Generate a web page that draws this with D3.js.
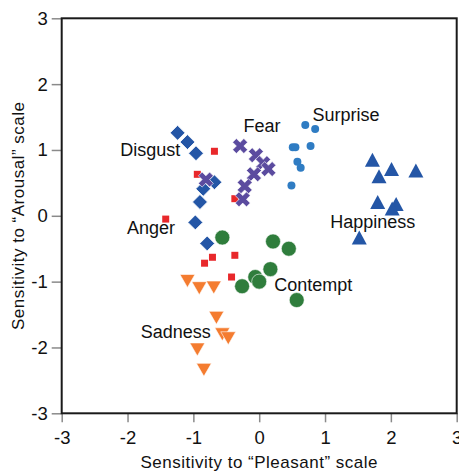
<!DOCTYPE html>
<html>
<head>
<meta charset="utf-8">
<script src="https://cdn.jsdelivr.net/npm/d3@7"></script>
<style>
  body { margin: 0; background: #fff; }
  svg { display: block; font-family: "Liberation Sans", Arial, sans-serif; }
  .tick line { stroke: #8a8a8a; stroke-width: 1.5; }
  .tick text { font-size: 18.5px; fill: #111; }
</style>
</head>
<body>
<div id="container"></div>
<script>
var width = 459, height = 475;
var plot = {left: 61.7, right: 456.7, top: 18.3, bottom: 413.3};

// emotion categories and their [pleasant, arousal] sensitivities
var categories = ['Anger', 'Disgust', 'Fear', 'Surprise', 'Happiness', 'Contempt', 'Sadness'];

var anger = [[-0.68, 0.98], [-0.94, 0.63], [-1.42, -0.05], [-0.37, 0.26],
	[-0.71, -0.63], [-0.83, -0.72], [-0.37, -0.60], [-0.42, -0.93]];
var disgust = [[-1.24, 1.26], [-1.09, 1.12], [-0.96, 0.95], [-0.68, 0.51],
	[-0.85, 0.41], [-0.90, 0.21], [-0.97, -0.10], [-0.79, -0.42]];
var fear = [[-0.29, 1.06], [-0.05, 0.92], [0.06, 0.80], [0.14, 0.71],
	[-0.08, 0.63], [-0.22, 0.45], [-0.25, 0.25], [-0.81, 0.55]];
var surprise = [[0.70, 1.38], [0.85, 1.32], [0.51, 1.04], [0.55, 1.04],
	[0.78, 1.06], [0.58, 0.82], [0.63, 0.73], [0.49, 0.46]];
var happiness = [[1.72, 0.85], [2.01, 0.71], [1.82, 0.60], [2.38, 0.69],
	[1.80, 0.21], [2.08, 0.18], [2.02, 0.11], [1.52, -0.33]];
var contempt = [[-0.56, -0.33], [0.21, -0.39], [0.45, -0.50], [0.17, -0.81],
	[-0.06, -0.93], [0.00, -1.00], [-0.26, -1.07], [0.57, -1.28]];
var sadness = [[-1.09, -0.99], [-0.91, -1.10], [-0.69, -1.09], [-0.65, -1.55],
	[-0.56, -1.80], [-0.47, -1.86], [-0.94, -2.03], [-0.84, -2.34]];

var tickValues = [-3, -2, -1, 0, 1, 2, 3];

// where each category name sits (data units, text start / baseline)
var labelSpots = [[-2.01, -0.28], [-2.11, 0.91], [-0.24, 1.28], [0.81, 1.44],
	[1.08, -0.19], [0.23, -1.14], [-1.80, -1.85]];

var svg = d3.select('div#container')
	.append('svg')
	.attr('width', width)
	.attr('height', height);

var x = d3.scaleLinear().domain([-3, 3]).range([plot.left, plot.right]);
var y = d3.scaleLinear().domain([-3, 3]).range([plot.bottom, plot.top]);

var xAxis = svg.append('g')
	.attr('transform', 'translate(0,' + plot.bottom + ')')
	.call(d3.axisBottom(x).tickValues(tickValues).tickSize(9).tickPadding(9)
		.tickFormat(d => String(d)));
var yAxis = svg.append('g')
	.attr('transform', 'translate(' + plot.left + ',0)')
	.call(d3.axisLeft(y).tickValues(tickValues).tickSize(10).tickPadding(4)
		.tickFormat(d => String(d)));
xAxis.select('.domain').remove();
yAxis.select('.domain').remove();
svg.selectAll('.tick text').attr('font-family', null);

// frame
svg.append('rect')
	.attr('x', plot.left)
	.attr('y', plot.top)
	.attr('width', plot.right - plot.left)
	.attr('height', plot.bottom - plot.top)
	.attr('fill', 'none')
	.attr('stroke', '#1a1a1a')
	.attr('stroke-width', 2);

var triUp = 'M0,-7L7.5,7L-7.5,7Z';
var triDown = 'M-7.5,-6.5L7.5,-6.5L0,6.5Z';

var marks = svg.append('g');

function place(d) { return 'translate(' + x(d[0]) + ',' + y(d[1]) + ')'; }

marks.append('g').selectAll('path').data(anger).join('path')
	.attr('d', d3.symbol(d3.symbolSquare, 49))
	.attr('transform', place)
	.attr('fill', '#e8282b');

marks.append('g').selectAll('path').data(disgust).join('path')
	.attr('d', d3.symbol(d3.symbolSquare, 112))
	.attr('transform', d => place(d) + ' rotate(45)')
	.attr('fill', '#2456a6')
	.attr('stroke', '#fff')
	.attr('stroke-width', 0.8);

marks.append('g').selectAll('path').data(fear).join('path')
	.attr('d', d3.symbol(d3.symbolCross, 140))
	.attr('transform', d => place(d) + ' rotate(45)')
	.attr('fill', '#5b4b9f')
	.attr('stroke', '#fff')
	.attr('stroke-width', 0.6);

marks.append('g').selectAll('circle').data(surprise).join('circle')
	.attr('cx', d => x(d[0]))
	.attr('cy', d => y(d[1]))
	.attr('r', 4)
	.attr('fill', '#2f7cc3');

marks.append('g').selectAll('path').data(happiness).join('path')
	.attr('d', triUp)
	.attr('transform', place)
	.attr('fill', '#2456a6');

marks.append('g').selectAll('circle').data(contempt).join('circle')
	.attr('cx', d => x(d[0]))
	.attr('cy', d => y(d[1]))
	.attr('r', 7.5)
	.attr('fill', '#2f7d3c')
	.attr('stroke', '#fff')
	.attr('stroke-width', 0.6);

marks.append('g').selectAll('path').data(sadness).join('path')
	.attr('d', triDown)
	.attr('transform', place)
	.attr('fill', '#f47c30')
	.attr('stroke', '#fff')
	.attr('stroke-width', 0.6);

svg.append('g').selectAll('text').data(categories).join('text')
	.attr('x', (d, i) => x(labelSpots[i][0]))
	.attr('y', (d, i) => y(labelSpots[i][1]))
	.attr('font-size', '18px')
	.attr('fill', '#111')
	.text(d => d);

// axis titles
svg.append('text')
	.attr('x', (plot.left + plot.right) / 2)
	.attr('y', 468)
	.attr('text-anchor', 'middle')
	.attr('font-size', '17px')
	.attr('letter-spacing', '0.5px')
	.attr('fill', '#111')
	.text('Sensitivity to \u201cPleasant\u201d scale');

svg.append('text')
	.attr('transform', 'translate(24,' + (plot.top + plot.bottom) / 2 + ') rotate(-90)')
	.attr('text-anchor', 'middle')
	.attr('font-size', '17px')
	.attr('letter-spacing', '0.5px')
	.attr('fill', '#111')
	.text('Sensitivity to \u201cArousal\u201d scale');
</script>
</body>
</html>
